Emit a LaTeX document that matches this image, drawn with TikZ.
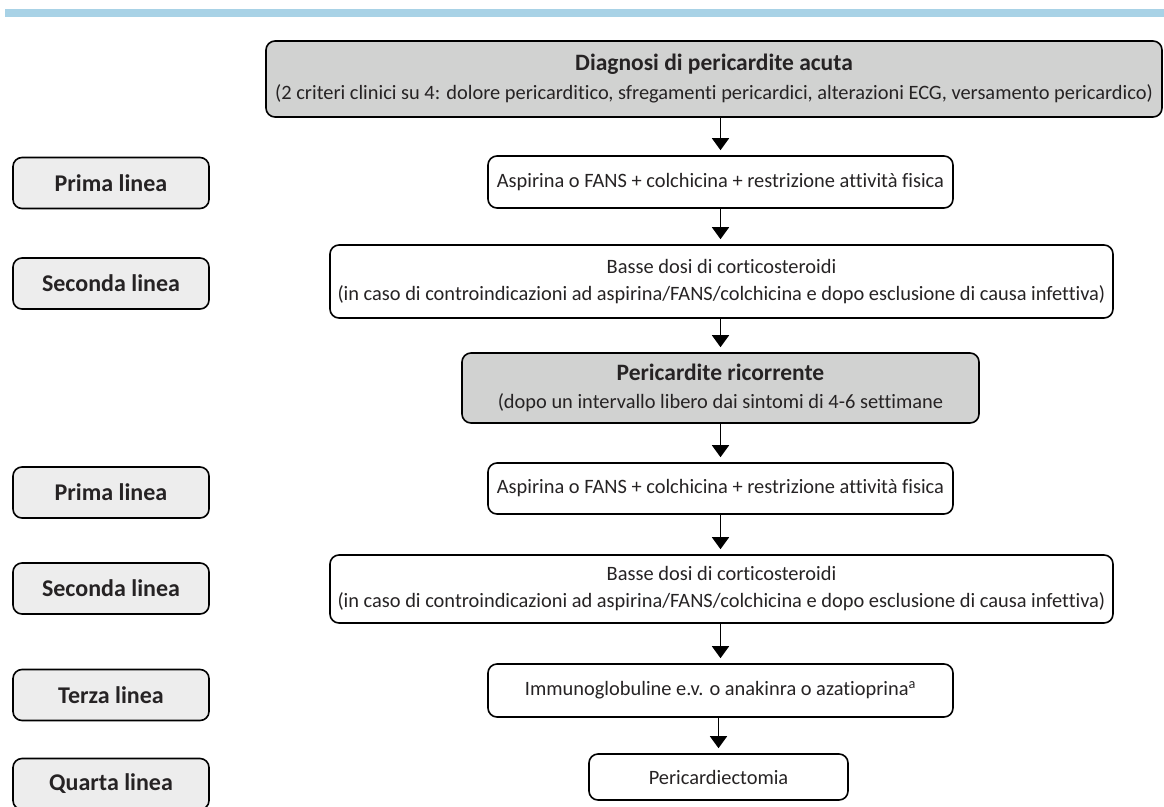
\documentclass[tikz,border=0pt]{standalone}
\usepackage{fontspec}
\setmainfont{Carlito}[Ligatures=CommonOff]
\usetikzlibrary{arrows.meta,calc}
\definecolor{txt}{HTML}{262324}
\definecolor{barblue}{HTML}{A8D2E6}
\definecolor{darkfill}{HTML}{D1D2D1}
\definecolor{lightfill}{HTML}{EDEDED}
\tikzset{
  box/.style={draw=black, line width=1.6pt, rounded corners=9pt, rectangle, inner sep=0pt, align=center, text=txt, font=\fontsize{20.4}{27}\selectfont},
  graybox/.style={box, fill=darkfill},
  whitebox/.style={box, fill=white},
  label/.style={box, fill=lightfill, minimum width=196pt, minimum height=51pt, font=\fontsize{24}{28}\selectfont\bfseries},
  arr/.style={line width=1.6pt, -{Triangle[width=17pt,length=12pt]}, shorten >=5pt},
}
\begin{document}
\begin{tikzpicture}[x=1pt,y=-1pt]
\useasboundingbox (0,0) rectangle (1164,806);
\fill[barblue] (5,9) rectangle (1164,17);
% main column
\node[graybox, minimum width=896pt, minimum height=76pt] (diag) at (714,79)
  {{\fontsize{23.5}{28}\selectfont\bfseries Diagnosi di pericardite acuta}\\[2pt](2 criteri clinici su 4: dolore pericarditico, sfregamenti pericardici, alterazioni ECG, versamento pericardico)};
\node[whitebox, minimum width=465pt, minimum height=52pt] (p1) at (720.5,182)
  {Aspirina o FANS + colchicina + restrizione attività fisica};
\node[whitebox, minimum width=783pt, minimum height=73pt] (s1) at (721.5,281.5)
  {Basse dosi di corticosteroidi\\(in caso di controindicazioni ad aspirina/FANS/colchicina e dopo esclusione di causa infettiva)};
\node[graybox, minimum width=517pt, minimum height=70pt] (ric) at (720.5,388)
  {{\fontsize{23.5}{28}\selectfont\bfseries Pericardite ricorrente}\\[1pt](dopo un intervallo libero dai sintomi di 4-6 settimane};
\node[whitebox, minimum width=465pt, minimum height=51pt] (p2) at (720.5,488.5)
  {Aspirina o FANS + colchicina + restrizione attività fisica};
\node[whitebox, minimum width=783pt, minimum height=68pt] (s2) at (721.5,589)
  {Basse dosi di corticosteroidi\\(in caso di controindicazioni ad aspirina/FANS/colchicina e dopo esclusione di causa infettiva)};
\node[whitebox, minimum width=465pt, minimum height=53pt] (t) at (720.5,690.5)
  {Immunoglobuline e.v. o anakinra o azatioprina\textsuperscript{a}};
\node[whitebox, minimum width=259pt, minimum height=46pt] (per) at (718.5,777)
  {Pericardiectomia};
% left labels
\node[label] (l1) at (111,183) {Prima linea};
\node[label] (l2) at (111,283.5) {Seconda linea};
\node[label] (l3) at (111,492.5) {Prima linea};
\node[label] (l4) at (111,588.5) {Seconda linea};
\node[label] (l5) at (111,695) {Terza linea};
\node[label] (l6) at (111,784) {Quarta linea};
% arrows
\draw[arr] (diag.south -| p1.north) -- (p1.north);
\draw[arr] (p1.south) -- (p1.south |- s1.north);
\draw[arr] (s1.south -| ric.north) -- (ric.north);
\draw[arr] (ric.south) -- (ric.south |- p2.north);
\draw[arr] (p2.south) -- (p2.south |- s2.north);
\draw[arr] (s2.south -| t.north) -- (t.north);
\draw[arr] (t.south -| per.north) -- (per.north);
\end{tikzpicture}
\end{document}
